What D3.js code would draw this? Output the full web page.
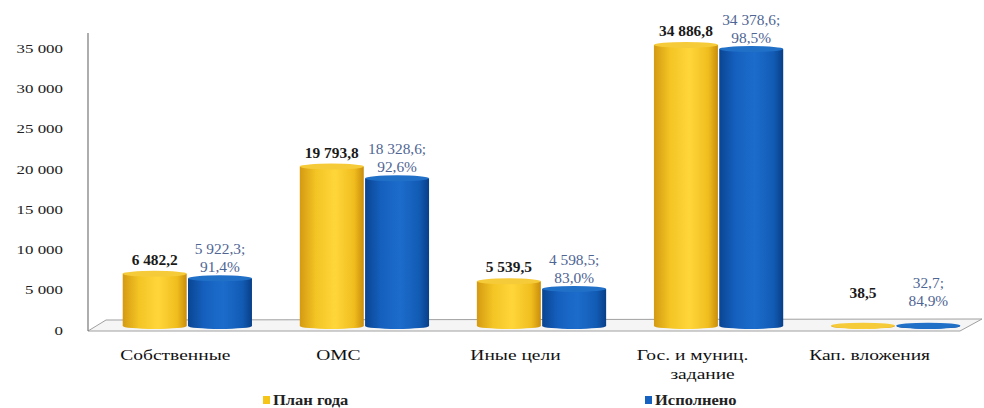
<!DOCTYPE html>
<html><head><meta charset="utf-8">
<script src="https://cdn.jsdelivr.net/npm/d3@7"></script>
<style>html,body{margin:0;padding:0;background:#fff;}svg text{font-family:"Liberation Serif","Times New Roman","DejaVu Serif",serif;}</style>
</head><body>
<svg id="c" width="984" height="408"></svg>
<script>
const categories = ["Собственные", "ОМС", "Иные цели", "Гос. и муниц.|задание", "Кап. вложения"];
const planValues = [6482.2, 19793.8, 5539.5, 34886.8, 38.5];
const doneValues = [5922.3, 18328.6, 4598.5, 34378.6, 32.7];
const donePercent = ["91,4%", "92,6%", "83,0%", "98,5%", "84,9%"];
const yTicks = [0, 5000, 10000, 15000, 20000, 25000, 30000, 35000];
const seriesNames = ["План года", "Исполнено"];

const SERIF = "'Liberation Serif','Times New Roman',serif";
const svg = d3.select("#c");
const defs = svg.append("defs");
function grad(id, stops){
  const g = defs.append("linearGradient").attr("id", id).attr("x1","0").attr("x2","1").attr("y1","0").attr("y2","0");
  stops.forEach(s => g.append("stop").attr("offset", s[0]).attr("stop-color", s[1]));
}
grad("gy", [[0,"#d49a12"],[0.25,"#f3c424"],[0.55,"#ffd63a"],[0.85,"#f0bd1e"],[1,"#c98d0c"]]);
grad("gb", [[0,"#0a4592"],[0.25,"#1560be"],[0.55,"#1c6ccc"],[0.85,"#125bb4"],[1,"#083f88"]]);

const fmt = v => {
  const s = v.toFixed(1).split(".");
  return s[0].replace(/\B(?=(\d{3})+(?!\d))/g, " ") + "," + s[1];
};
const tickFmt = v => String(v).replace(/\B(?=(\d{3})+(?!\d))/g, " ");

function label(x, y, txt, opt){
  const g = svg.append("g").attr("transform", `translate(${x},${y}) scale(${opt.sx || 1},1)`);
  return g.append("text").attr("x",0).attr("y",0)
    .attr("text-anchor", opt.anchor || "middle")
    .attr("font-size", opt.size || 14)
    .attr("font-weight", opt.weight || "normal")
    .attr("fill", opt.fill || "#222")
    .attr("font-family", SERIF)
    .text(txt);
}

const y = d3.scaleLinear().domain([0, 35000]).range([326, 44]);
const x = d3.scaleBand().domain(d3.range(categories.length)).range([105, 978]).paddingInner(0.27).paddingOuter(0.1);
const xs = d3.scaleBand().domain([0,1]).range([0, x.bandwidth()]).paddingInner(0.02);

// floor
svg.append("polygon").attr("points","88,331 960,331 982,319 106,320").attr("fill","#f5f5f5").attr("stroke","#a0a0a0").attr("stroke-width",1);
// vertical axis
svg.append("line").attr("x1",88).attr("x2",88).attr("y1",33).attr("y2",331).attr("stroke","#777").attr("stroke-width",1.2);

// y ticks
const yAxis = d3.axisLeft(y).tickValues(yTicks).tickFormat(tickFmt).tickSize(0).tickPadding(0);
const ga = svg.append("g").attr("transform","translate(63,4)").call(yAxis);
ga.select(".domain").remove();
ga.selectAll("text").attr("font-size",13).attr("fill","#222").attr("font-family",SERIF)
  .attr("dy","0.32em").attr("x",0).attr("transform","scale(1.3,1)");

const series = [planValues, doneValues];
const fills = ["url(#gy)", "url(#gb)"];
const tops = ["#f6cb3a", "#2170c8"];

categories.forEach((c, i) => {
  series.forEach((vals, s) => {
    const v = vals[i];
    const bx = x(i) + xs(s), bw = xs.bandwidth();
    const yt = y(v), yb = y(0);
    const ry = 3;
    const g = svg.append("g");
    g.append("path")
      .attr("d", `M${bx},${yt} L${bx},${yb} A${bw/2},${ry} 0 0 0 ${bx+bw},${yb} L${bx+bw},${yt} Z`)
      .attr("fill", fills[s]);
    g.append("ellipse").attr("cx", bx + bw/2).attr("cy", yt).attr("rx", bw/2).attr("ry", ry)
      .attr("fill", tops[s]);
  });
  // value labels
  const anchorP = Math.min(y(planValues[i]), 307);
  const anchorD = Math.min(y(doneValues[i]), 312);
  label(x(i) + xs(0) + xs.bandwidth()/2, anchorP - 9, fmt(planValues[i]), {size:14, weight:"bold", fill:"#1a1a1a", sx:1.1});
  const bxc = x(i) + xs(1) + xs.bandwidth()/2;
  label(bxc, anchorD - 24, fmt(doneValues[i]) + ";", {size:14, fill:"#4f6593", sx:1.1});
  label(bxc, anchorD - 6, donePercent[i], {size:14, fill:"#4f6593", sx:1.1});
  // category labels
  const lines = c.split("|");
  const cx = x(i) + x.bandwidth()/2 - (i === 0 ? 12 : 26);
  lines.forEach((l, k) => label(cx + (k ? 10 : 0), 360 + k * 19, l, {size:15, fill:"#111", sx:1.3}));
});

// legend
const legX = [263, 645];
const legC = ["#f5c518", "#1562c0"];
seriesNames.forEach((n, k) => {
  svg.append("rect").attr("x", legX[k]).attr("y", 396).attr("width", 7).attr("height", 8).attr("fill", legC[k]);
  label(legX[k] + 10, 405, n, {size:15, weight:"bold", fill:"#222", anchor:"start", sx:1.1});
});
</script>
</body></html>
